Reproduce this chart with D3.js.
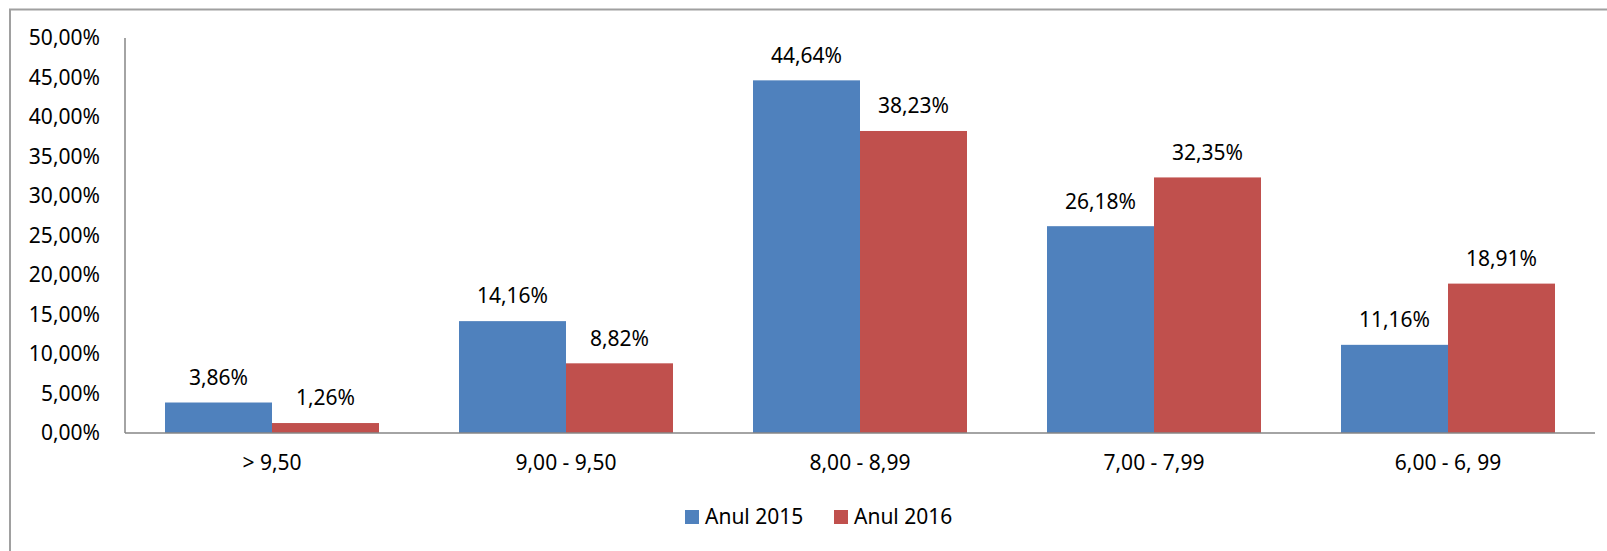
<!DOCTYPE html>
<html>
<head>
<meta charset="utf-8">
<script src="https://cdn.jsdelivr.net/npm/d3@7"></script>
<style>
  body { margin: 0; background: #fff; }
  svg text { font-family: "Noto Sans", "Open Sans", sans-serif; fill: #000; }
</style>
</head>
<body>
<svg id="chart" width="1607" height="551"></svg>
<script>
// data
var categories = ["> 9,50", "9,00 - 9,50", "8,00 - 8,99", "7,00 - 7,99", "6,00 - 6, 99"];
var series = ["Anul 2015", "Anul 2016"];
var values2015 = [3.86, 14.16, 44.64, 26.18, 11.16];
var values2016 = [1.26, 8.82, 38.23, 32.35, 18.91];
var yTicks = [0, 5, 10, 15, 20, 25, 30, 35, 40, 45, 50];
var colors = ["#4f81bd", "#c0504d"];

var fmt = function(v) { return v.toFixed(2).replace(".", ",") + "%"; };
var fs = "21px";

var svg = d3.select("#chart");

// outer frame (cut off at right and bottom like the source)
svg.append("path")
   .attr("d", "M10,560 L10,9.5 L1620,9.5")
   .attr("fill", "none")
   .attr("stroke", "#a0a0a0")
   .attr("stroke-width", 2);

var plot = {left: 125, right: 1595, top: 38, bottom: 433};

var x = d3.scaleBand()
          .domain(categories)
          .range([plot.left, plot.right]);

var xInner = d3.scaleBand()
               .domain(series)
               .range([40, x.bandwidth() - 40]);

var y = d3.scaleLinear()
          .domain([0, 50])
          .range([plot.bottom, plot.top]);

// y labels
var yAxis = svg.append("g")
   .attr("transform", "translate(" + plot.left + ",0)")
   .call(d3.axisLeft(y).tickValues(yTicks).tickSize(0).tickPadding(25).tickFormat(fmt));
yAxis.select(".domain").remove();
yAxis.selectAll("text").attr("font-size", fs).attr("font-family", "Noto Sans");

// bars
var rows = categories.map(function(c, i) { return {cat: c, vals: [values2015[i], values2016[i]]}; });

var groups = svg.selectAll(".grp")
   .data(rows)
   .enter().append("g")
   .attr("class", "grp")
   .attr("transform", function(d) { return "translate(" + x(d.cat) + ",0)"; });

groups.selectAll("rect")
   .data(function(d) { return d.vals.map(function(v, j) { return {s: series[j], v: v, j: j}; }); })
   .enter().append("rect")
   .attr("x", function(d) { return xInner(d.s); })
   .attr("y", function(d) { return y(d.v); })
   .attr("width", xInner.bandwidth())
   .attr("height", function(d) { return plot.bottom - y(d.v); })
   .attr("fill", function(d) { return colors[d.j]; });

groups.selectAll("text.val")
   .data(function(d) { return d.vals.map(function(v, j) { return {s: series[j], v: v}; }); })
   .enter().append("text")
   .attr("class", "val")
   .attr("x", function(d) { return xInner(d.s) + xInner.bandwidth() / 2; })
   .attr("y", function(d) { return y(d.v) - 25; })
   .attr("dy", "0.35em")
   .attr("text-anchor", "middle")
   .attr("font-size", fs)
   .text(function(d) { return fmt(d.v); });

// axis lines
svg.append("line")
   .attr("x1", plot.left).attr("x2", plot.left)
   .attr("y1", plot.top).attr("y2", plot.bottom)
   .attr("stroke", "#868686").attr("stroke-width", 1.5);
svg.append("line")
   .attr("x1", plot.left).attr("x2", plot.right)
   .attr("y1", plot.bottom).attr("y2", plot.bottom)
   .attr("stroke", "#868686").attr("stroke-width", 1.5);

// category labels
svg.selectAll("text.cat")
   .data(categories)
   .enter().append("text")
   .attr("class", "cat")
   .attr("x", function(d) { return x(d) + x.bandwidth() / 2; })
   .attr("y", 463)
   .attr("dy", "0.35em")
   .attr("text-anchor", "middle")
   .attr("font-size", fs)
   .text(function(d) { return d; });

// legend
var legendX = [685, 834];
var legend = svg.selectAll(".leg")
   .data(series)
   .enter().append("g")
   .attr("class", "leg")
   .attr("transform", function(d, i) { return "translate(" + legendX[i] + ",510)"; });
legend.append("rect")
   .attr("width", 14).attr("height", 14)
   .attr("fill", function(d, i) { return colors[i]; });
legend.append("text")
   .attr("x", 20).attr("y", 7)
   .attr("dy", "0.35em")
   .attr("font-size", fs)
   .text(function(d) { return d; });
</script>
</body>
</html>
